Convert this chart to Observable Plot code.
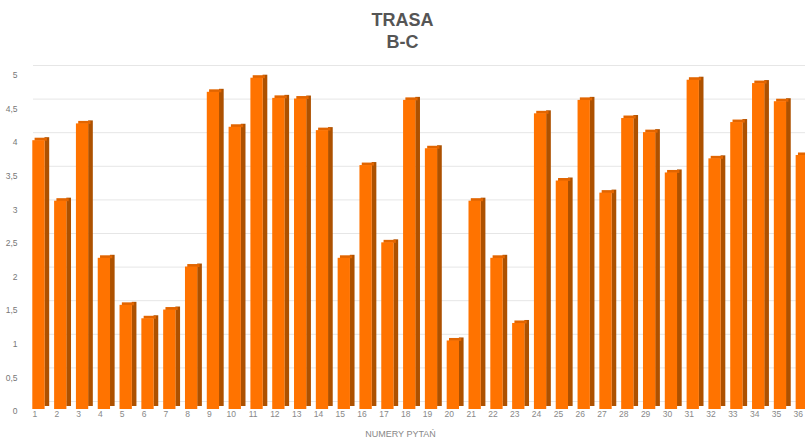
<!DOCTYPE html>
<html>
<head>
<meta charset="utf-8">
<script src="https://cdn.jsdelivr.net/npm/d3@7"></script>
<script src="https://cdn.jsdelivr.net/npm/@observablehq/plot@0.6"></script>
<style>
  html, body { margin: 0; padding: 0; background: #fff; overflow: hidden; width: 805px; height: 438px; }
  #title { height: 58px; box-sizing: border-box; padding-top: 9px; text-align: center;
    font-family: "Liberation Sans", Arial, sans-serif; font-weight: bold; font-size: 18px;
    line-height: 22px; color: #555; }
  #chart svg { overflow: hidden; display: block; }
</style>
</head>
<body>
<div id="title">TRASA<br>B-C</div>
<div id="chart"></div>
<script>
const questions = Array.from({length: 36}, (_, i) => String(i + 1));
const values = [4.0, 3.1, 4.25, 2.25, 1.55, 1.35, 1.48, 2.12, 4.72, 4.2, 4.93, 4.63,
  4.62, 4.15, 2.25, 3.63, 2.48, 4.6, 3.88, 1.02, 3.1, 2.25, 1.28, 4.4,
  3.4, 4.6, 3.22, 4.33, 4.12, 3.52, 4.9, 3.73, 4.27, 4.85, 4.58, 3.78];
const yTicks = [0, 0.5, 1, 1.5, 2, 2.5, 3, 3.5, 4, 4.5, 5];
const xTitle = "NUMERY PYTAŃ";

const data = questions.map((q, i) => ({q, v: values[i]}));
const step = 21.81, inner = 0.436, start = 32.3;

const chart = Plot.plot({
  width: 805,
  height: 380,
  marginLeft: 0,
  marginRight: 0,
  marginTop: 15,
  marginBottom: 29,
  style: {fontFamily: "'Liberation Sans', Arial, sans-serif", background: "#fff"},
  x: {type: "band", domain: questions, paddingInner: inner, paddingOuter: 0, round: false,
      range: [start, start + step * (questions.length - inner)]},
  y: {domain: [0, 5]},
  marks: [
    Plot.ruleY(yTicks, {stroke: "#e6e6e6", strokeWidth: 1, insetLeft: 33, dy: -8}),
    Plot.barY(data, {x: "q", y: "v", fill: "#ad5100", insetLeft: 12.2, insetRight: -4.6, dy: -3}),
    Plot.tickY(data, {x: "q", y: "v", stroke: "#e26500", strokeWidth: 3, dy: -1.5, dx: 2.3}),
    Plot.barY(data, {x: "q", y: "v", fill: "#ff7300"}),
    Plot.axisY(yTicks, {anchor: "left", tickSize: 0, tickPadding: 0, dx: 17, dy: 2,
      tickFormat: d => String(d).replace(".", ","), fontSize: 8.5, color: "#777", label: null}),
    Plot.axisX({anchor: "bottom", tickSize: 0, tickPadding: 1, dx: -4, fontSize: 8.5,
      color: "#888", label: null}),
    Plot.text([xTitle], {frameAnchor: "bottom", dy: 27, dx: -2.5, fontSize: 9, fill: "#888"})
  ]
});
document.getElementById("chart").appendChild(chart);
</script>
</body>
</html>
